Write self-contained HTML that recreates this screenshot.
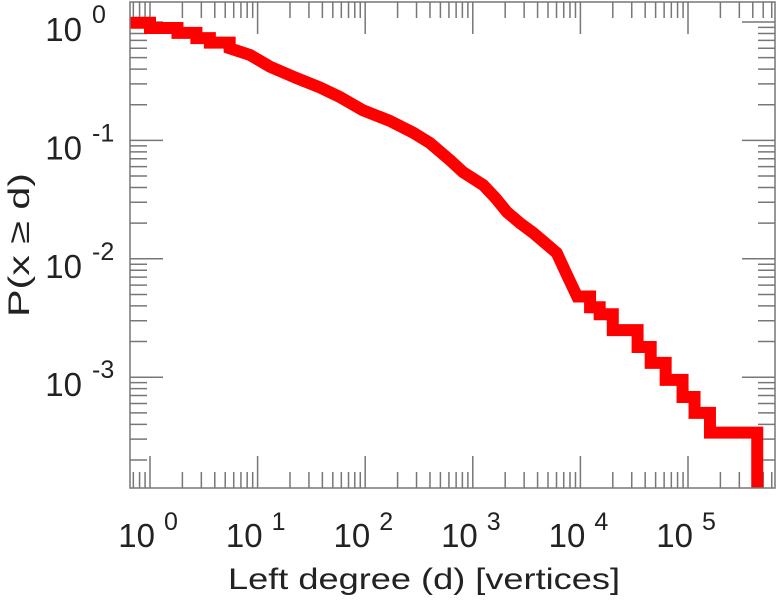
<!DOCTYPE html>
<html><head><meta charset="utf-8"><style>
html,body{margin:0;padding:0;background:#fff;}
svg{display:block;font-family:"Liberation Sans",sans-serif;}
</style></head><body>
<svg id="chart" width="777" height="600" viewBox="0 0 777 600" xmlns="http://www.w3.org/2000/svg">
<g id="grid-ticks"></g>
<g id="series"></g>
<rect x="130" y="2" width="645" height="486" fill="none" stroke="#777" stroke-width="1.5"/>
<g id="labels" fill="#222"></g>
<text x="228" y="589" font-size="30" textLength="392" lengthAdjust="spacingAndGlyphs" fill="#222">Left degree (d) [vertices]</text>
<text transform="translate(29,245) rotate(-90)" font-size="30" text-anchor="middle" textLength="144" lengthAdjust="spacingAndGlyphs" fill="#222">P(x ≥ d)</text>
</svg>
<script>
const degrees = [0.65, 1, 1.8, 2.7, 3.6, 5.5, 8.5, 13, 23, 38, 58, 95, 170, 280, 400, 615, 810, 1250, 1620, 2080, 2750, 3630, 4700, 6030, 7500, 9330, 12300, 15100, 20000, 34000, 45000, 62000, 89000, 115000, 160000, 440000];
const probs = [0.986, 0.89, 0.81, 0.73, 0.67, 0.60, 0.527, 0.42, 0.336, 0.28, 0.233, 0.18, 0.146, 0.116, 0.095, 0.068, 0.054, 0.042, 0.0327, 0.0248, 0.020, 0.0166, 0.0136, 0.0112, 0.0073, 0.0048, 0.0039, 0.0034, 0.0025, 0.0018, 0.00132, 0.00095, 0.00068, 0.0005, 0.00034, 0.00017];
const xTickExps = [0, 1, 2, 3, 4, 5];
const yTickExps = [0, -1, -2, -3];

const NS = "http://www.w3.org/2000/svg";
const X0 = 150, XD = 107.6, Y0 = 22, YD = 118.4;
const PL = 130, PR = 775, PT = 2, PB = 488;
function sx(v){ return X0 + Math.log10(v) * XD; }
function sy(v){ return Y0 - Math.log10(v) * YD; }
function mk(tag, attrs, parent){ const e = document.createElementNS(NS, tag); for (const k in attrs) e.setAttribute(k, attrs[k]); parent.appendChild(e); return e; }

const tg = document.getElementById('grid-ticks');
let td = "";
for (let e = -1; e <= 6; e++) {
  for (let m = 1; m <= 9; m++) {
    const x = sx(m * Math.pow(10, e));
    if (x < PL || x > PR) continue;
    const L = m === 1 ? 32 : 16;
    td += `M${x},${PB}v${-L}M${x},${PT}v${L}`;
  }
}
for (let e = -5; e <= 1; e++) {
  for (let m = 1; m <= 9; m++) {
    const y = sy(m * Math.pow(10, e));
    if (y < PT || y > PB) continue;
    const L = m === 1 ? 33 : 17;
    td += `M${PL},${y}h${L}M${PR},${y}h${-L}`;
  }
}
const tp = mk('path', {d: td, stroke: '#777', 'stroke-width': 1.5, fill: 'none'}, tg);



// series: step down at early/tail points, straight lines in the dense middle
const sg = document.getElementById('series');
let d = `M${sx(degrees[0])},${sy(probs[0])}`;
for (let i = 1; i < degrees.length; i++) {
  const x = sx(degrees[i]), y = sy(probs[i]);
  const py = sy(probs[i-1]);
  if (degrees[i] < 6 || degrees[i-1] >= 9000) {
    d += `L${x},${py}L${x},${y}`;
  } else {
    d += `L${x},${y}`;
  }
}
d += `L${sx(degrees[degrees.length-1])},${PB}`;
const clip = mk('clipPath', {id: 'pc'}, sg);
mk('rect', {x: PL, y: PT, width: PR-PL, height: PB-PT}, clip);
const sp = mk('path', {d: d, stroke: '#ff0000', 'stroke-width': 12, fill: 'none', 'stroke-linejoin': 'miter', 'clip-path': 'url(#pc)'}, sg);



// labels
const lg = document.getElementById('labels');
xTickExps.forEach(e => {
  const x = sx(Math.pow(10, e));
  const t = mk('text', {x: x + 5, y: 547, 'font-size': 33, 'text-anchor': 'end'}, lg);
  t.textContent = '10';
  
  
  const s = mk('text', {x: x + 14, y: 530, 'font-size': 25}, lg);
  s.textContent = String(e);
  
  
});
yTickExps.forEach(e => {
  const y = sy(Math.pow(10, e));
  const t = mk('text', {x: 82, y: y + 19, 'font-size': 33, 'text-anchor': 'end'}, lg);
  t.textContent = '10';
  
  
  const s = mk('text', {x: 92, y: y + 1, 'font-size': 25}, lg);
  s.textContent = String(e);
  
  
});
</script>
</body></html>
